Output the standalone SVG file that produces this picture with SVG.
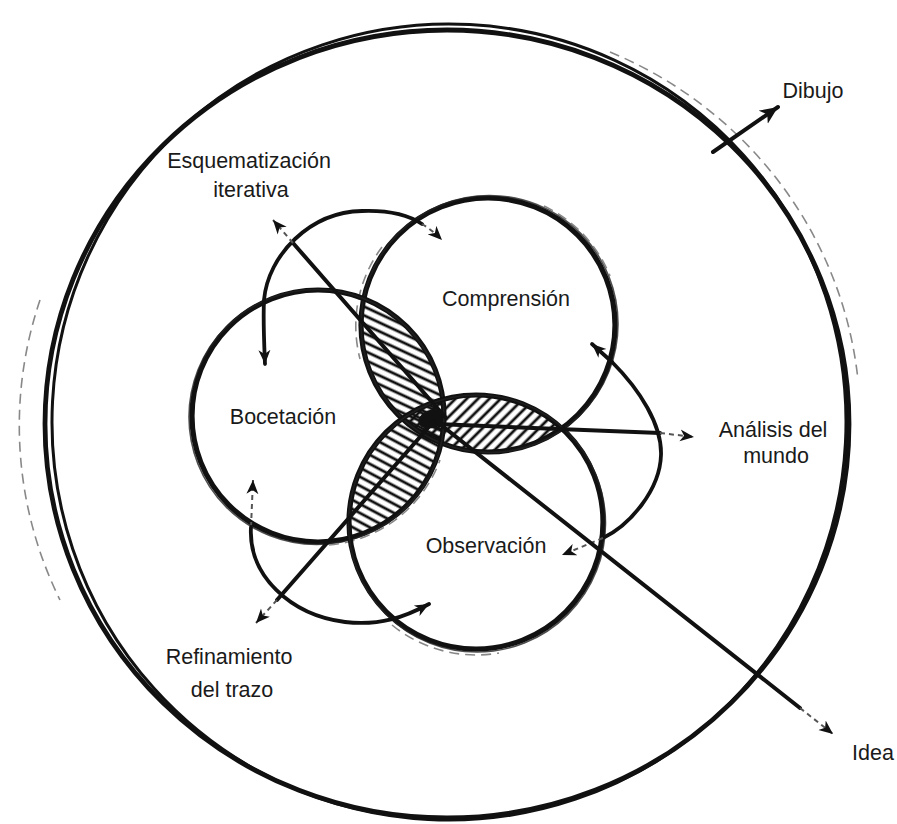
<svg xmlns="http://www.w3.org/2000/svg" width="897" height="824" viewBox="0 0 897 824">
<style>
.main{fill:none;stroke:#111;stroke-width:5.2}
.main2{fill:none;stroke:#222;stroke-width:1.6;opacity:.8}
.sec{fill:none;stroke:#111;stroke-width:3.8;stroke-linecap:round}
.axis{fill:none;stroke:#111;stroke-width:4;stroke-linecap:round}
.dash{fill:none;stroke:#555;stroke-width:2;stroke-dasharray:5 4}
.sketch{fill:none;stroke:#888;stroke-width:1.6;stroke-dasharray:10 6}
.outer{fill:none;stroke:#111}
.lbl{font-family:"Liberation Sans",Arial,sans-serif;font-size:21.5px;fill:#1a1a1a;text-anchor:middle}
</style>
<defs>
<marker id="ah" markerUnits="userSpaceOnUse" markerWidth="16" markerHeight="14" refX="14" refY="6" orient="auto-start-reverse" viewBox="0 0 16 12">
<path d="M0,0 L14,6 L0,12 L4,6 Z" fill="#111"/>
</marker>
<marker id="ahb" markerUnits="userSpaceOnUse" markerWidth="20" markerHeight="18" refX="18" refY="8" orient="auto" viewBox="0 0 20 16">
<path d="M0,0 L18,8 L0,16 L5,8 Z" fill="#111"/>
</marker>
<pattern id="h1" patternUnits="userSpaceOnUse" width="8" height="8" patternTransform="rotate(25)">
<line x1="0" y1="4" x2="8" y2="4" stroke="#111" stroke-width="2.8"/>
</pattern>
<pattern id="h2" patternUnits="userSpaceOnUse" width="8" height="8" patternTransform="rotate(-45)">
<line x1="0" y1="4" x2="8" y2="4" stroke="#111" stroke-width="2.8"/>
</pattern>
<pattern id="h3" patternUnits="userSpaceOnUse" width="8" height="8" patternTransform="rotate(28)">
<line x1="0" y1="4" x2="8" y2="4" stroke="#111" stroke-width="2.8"/>
</pattern>
<clipPath id="cB"><circle cx="318" cy="416" r="126"/></clipPath>
<clipPath id="cC"><circle cx="488" cy="325" r="127"/></clipPath>
<clipPath id="cO"><circle cx="476" cy="522" r="127"/></clipPath>
</defs>
<rect width="897" height="824" fill="#fff"/>

<g id="dibujo-frame">
<ellipse class="outer" cx="447" cy="424" rx="402" ry="394" stroke-width="4.8"/>
<ellipse class="outer" cx="449" cy="422" rx="397" ry="398" stroke-width="3" transform="rotate(3 449 422)"/>
<path class="sketch" d="M610,52 A410,401 0 0 1 858,380"/>
<path class="sketch" d="M40,300 A410,401 0 0 0 60,600"/>
</g>

<g id="lenses">
<g clip-path="url(#cB)"><circle cx="488" cy="325" r="127" fill="url(#h1)"/></g>
<g clip-path="url(#cC)"><circle cx="476" cy="522" r="127" fill="url(#h2)"/></g>
<g clip-path="url(#cB)"><circle cx="476" cy="522" r="127" fill="url(#h3)"/></g>
<ellipse cx="431" cy="419" rx="13" ry="9" fill="#111" transform="rotate(-20 431 419)"/>
</g>

<g id="comprension">
<circle class="main" cx="488" cy="325" r="127"/>
<circle class="main2" cx="489.5" cy="324" r="128.5"/>
<path class="sketch" d="M544,206 A132,132 0 0 1 610,276"/>
<path class="sketch" d="M382,247 A132,132 0 0 0 360,359"/>
<text class="lbl" x="506" y="306">Comprensión</text>
</g>

<g id="bocetacion">
<circle class="main" cx="318" cy="416" r="126"/>
<circle class="main2" cx="316.5" cy="417" r="127.5"/>
<path class="sketch" d="M329,545 A130,130 0 0 0 440,460"/>
<text class="lbl" x="283" y="424">Bocetación</text>
</g>

<g id="observacion">
<circle class="main" cx="476" cy="522" r="127"/>
<circle class="main2" cx="477" cy="523.5" r="128.5"/>
<path class="sketch" d="M392,625 A133,133 0 0 0 499,653"/>
<text class="lbl" x="486" y="553">Observación</text>
</g>

<g id="connectors">
<path class="sec" d="M265,364 C264,340 263,320 264,300 C268,255 310,212 362,211 C390,210 410,216 422,224" marker-start="url(#ah)"/>
<path class="dash" d="M422,224 Q432,230 442,240" marker-end="url(#ah)"/>
<path class="sec" d="M612,362 C640,390 662,425 661,455 C660,490 630,525 603,538"/>
<path class="sec" d="M612,362 L592,344" marker-end="url(#ah)"/>
<path class="dash" d="M603,538 L562,555" marker-end="url(#ah)"/>
<path class="dash" d="M251,527 L253,480" marker-end="url(#ah)"/>
<path class="sec" d="M251,527 C248,575 290,615 345,622 C380,626 405,617 429,604" marker-end="url(#ah)"/>

<path class="axis" d="M446,418 L293,243"/>
<path class="dash" d="M293,243 L273,220" marker-end="url(#ah)"/>
<path class="axis" d="M434,421 L277,600"/>
<path class="dash" d="M277,600 L256,623" marker-end="url(#ah)"/>
<path class="axis" d="M436,424 L660,433"/>
<path class="dash" d="M660,433 L694,437" marker-end="url(#ah)"/>
<path class="axis" d="M436,421 L800,708" stroke-width="4.4"/>
<path class="dash" d="M800,708 L833,734" marker-end="url(#ah)"/>
<path class="axis" d="M713,152 L778,107" stroke-width="5" marker-end="url(#ahb)"/>
</g>

<g id="labels">
<text class="lbl" x="249" y="168">Esquematización</text>
<text class="lbl" x="251" y="197">iterativa</text>
<text class="lbl" x="813" y="98">Dibujo</text>
<text class="lbl" x="773" y="437">Análisis del</text>
<text class="lbl" x="776" y="463">mundo</text>
<text class="lbl" x="229" y="664">Refinamiento</text>
<text class="lbl" x="232" y="697">del trazo</text>
<text class="lbl" x="873" y="760">Idea</text>
</g>
</svg>
